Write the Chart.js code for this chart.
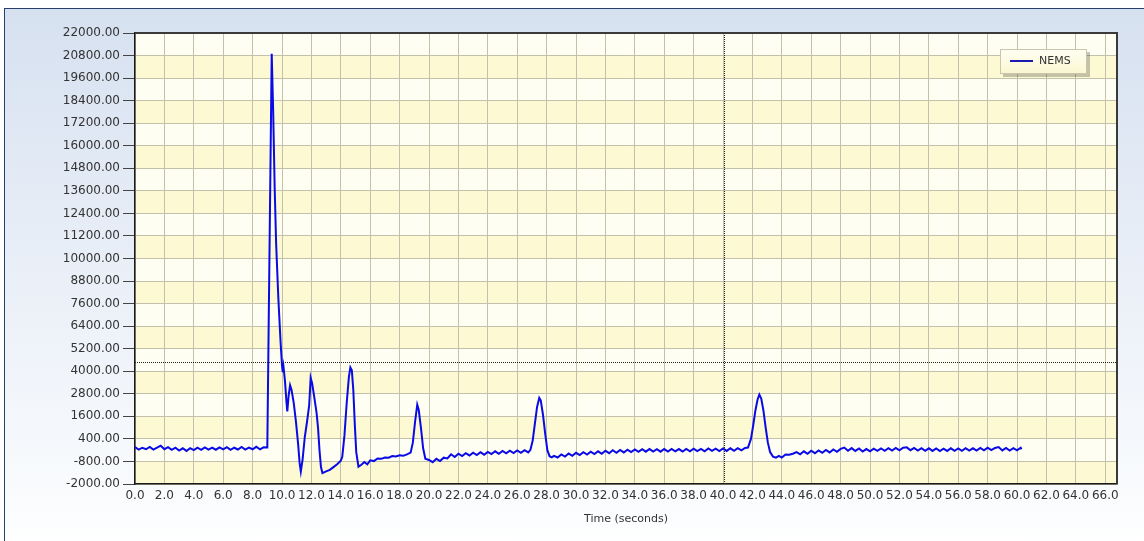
<!DOCTYPE html>
<html>
<head>
<meta charset="utf-8">
<script src="https://cdn.jsdelivr.net/npm/chart.js@4.4.1/dist/chart.umd.min.js"></script>
<style>
  html, body { margin: 0; padding: 0; background: #fff; }
  #wrap { position: relative; width: 1144px; height: 541px; overflow: hidden; }
  #frame {
    position: absolute; left: 4px; top: 8px; width: 1150px; height: 540px;
    border-left: 1px solid #2b3f6e; border-top: 1px solid #2b3f6e;
    background: linear-gradient(to bottom, #d6e1f0 0%, #e8eef7 45%, #f9fbfd 90%, #ffffff 100%);
  }
  canvas { position: absolute; left: 0; top: 0; }
</style>
</head>
<body>
<div id="wrap">
  <div id="frame"></div>
  <canvas id="nemsChart" width="1144" height="541"></canvas>
</div>
<script>
// time axis (seconds) and NEMS signal
const timeSec = [
  0, 0.25, 0.5, 0.75, 1, 1.25, 1.5, 1.75, 2, 2.25, 2.5, 2.75,
  3, 3.25, 3.5, 3.75, 4, 4.25, 4.5, 4.75, 5, 5.25, 5.5, 5.75,
  6, 6.25, 6.5, 6.75, 7, 7.25, 7.5, 7.75, 8, 8.25, 8.5, 8.75,
  9.0, 9.3, 9.4, 9.5, 9.6, 9.75, 9.9, 10.0, 10.05, 10.1, 10.2, 10.3,
  10.36, 10.45, 10.55, 10.65, 10.8, 10.95, 11.1, 11.2, 11.28, 11.4, 11.55, 11.7,
  11.85, 11.95, 12.05, 12.2, 12.35, 12.45, 12.55, 12.65, 12.75, 13.0, 13.25, 13.5,
  13.75, 14.0, 14.1, 14.25, 14.4, 14.55, 14.65, 14.75, 14.85, 14.95, 15.05, 15.2,
  15.4, 15.6, 15.8, 16.0, 16.25, 16.5, 16.75, 17.0, 17.25, 17.5, 17.75, 18.0,
  18.25, 18.5, 18.75, 18.9, 19.05, 19.2, 19.3, 19.45, 19.6, 19.75, 20.0, 20.25,
  20.5, 20.75, 21.0, 21.25, 21.5, 21.75, 22.0, 22.25, 22.5, 22.75, 23.0, 23.25,
  23.5, 23.75, 24.0, 24.25, 24.5, 24.75, 25.0, 25.25, 25.5, 25.75, 26.0, 26.25,
  26.5, 26.75, 26.9, 27.05, 27.2, 27.35, 27.5, 27.6, 27.75, 27.9, 28.05, 28.2,
  28.35, 28.5, 28.75, 29.0, 29.25, 29.5, 29.75, 30.0, 30.25, 30.5, 30.75, 31.0,
  31.25, 31.5, 31.75, 32.0, 32.25, 32.5, 32.75, 33.0, 33.25, 33.5, 33.75, 34.0,
  34.25, 34.5, 34.75, 35.0, 35.25, 35.5, 35.75, 36.0, 36.25, 36.5, 36.75, 37.0,
  37.25, 37.5, 37.75, 38.0, 38.25, 38.5, 38.75, 39.0, 39.25, 39.5, 39.75, 40.0,
  40.25, 40.5, 40.75, 41.0, 41.25, 41.5, 41.7, 41.9, 42.05, 42.2, 42.35, 42.47,
  42.6, 42.75, 42.9, 43.05, 43.2, 43.4, 43.6, 43.8, 44.0, 44.25, 44.5, 44.75,
  45.0, 45.25, 45.5, 45.75, 46.0, 46.25, 46.5, 46.75, 47.0, 47.25, 47.5, 47.75,
  48.0, 48.25, 48.5, 48.75, 49.0, 49.25, 49.5, 49.75, 50.0, 50.25, 50.5, 50.75,
  51.0, 51.25, 51.5, 51.75, 52.0, 52.25, 52.5, 52.75, 53.0, 53.25, 53.5, 53.75,
  54.0, 54.25, 54.5, 54.75, 55.0, 55.25, 55.5, 55.75, 56.0, 56.25, 56.5, 56.75,
  57.0, 57.25, 57.5, 57.75, 58.0, 58.25, 58.5, 58.75, 59.0, 59.25, 59.5, 59.75,
  60.0, 60.25, 60.3
];
const nemsSignal = [
  -40, -170, -70, -150, -30, -165, -60, 40, -150, -40, -180, -70,
  -220, -100, -240, -90, -200, -70, -180, -50, -170, -60, -175, -50,
  -160, -40, -180, -70, -165, -30, -170, -60, -150, -20, -160, -50,
  -60, 20900, 17800, 13800, 10800, 7900, 5600, 4300, 3950, 4250, 3500, 2400,
  1860, 2700, 3250, 3000, 2300, 1300, 100, -900, -1340, -700, 500, 1300,
  2200, 3650, 3350, 2600, 1800, 1000, -200, -1100, -1420, -1330, -1250, -1100,
  -950, -760, -550, 600, 2300, 3700, 4200, 4050, 3000, 1200, -300, -1080,
  -980, -830, -950, -740, -780, -640, -660, -590, -600, -510, -540, -470,
  -500, -420, -330, 200, 1300, 2220, 1950, 1000, -100, -650, -720, -840,
  -660, -780, -600, -640, -420, -560, -390, -510, -360, -480, -330, -460,
  -310, -440, -290, -410, -260, -390, -240, -370, -230, -350, -210, -340,
  -200, -320, -180, 300, 1200, 2100, 2580, 2450, 1700, 700, -200, -520,
  -580, -500, -590, -430, -540, -380, -500, -340, -460, -310, -430, -280,
  -410, -260, -390, -230, -360, -200, -340, -190, -320, -170, -300, -160,
  -290, -150, -280, -140, -270, -150, -280, -140, -270, -130, -260, -140,
  -270, -130, -260, -120, -250, -130, -260, -110, -240, -120, -250, -110,
  -240, -100, -230, -90, -210, -80, -60, 400, 1100, 1900, 2500, 2760,
  2550, 1900, 1000, 200, -300, -540, -600, -500, -590, -430, -440, -390,
  -300, -420, -260, -390, -230, -360, -210, -340, -190, -320, -160, -290,
  -130, -60, -230, -90, -240, -110, -270, -140, -260, -120, -240, -110,
  -230, -90, -220, -80, -210, -70, -50, -200, -80, -220, -90, -230,
  -100, -240, -110, -250, -120, -240, -100, -230, -110, -230, -90, -220,
  -100, -220, -80, -210, -70, -200, -80, -30, -210, -80, -220, -90,
  -210, -70, -150
];
const yTicks = [-2000, -800, 400, 1600, 2800, 4000, 5200, 6400, 7600, 8800, 10000,
  11200, 12400, 13600, 14800, 16000, 17200, 18400, 19600, 20800, 22000];
const xTicks = [0, 2, 4, 6, 8, 10, 12, 14, 16, 18, 20, 22, 24, 26, 28, 30, 32,
  34, 36, 38, 40, 42, 44, 46, 48, 50, 52, 54, 56, 58, 60, 62, 64, 66];
const cursorTime = 40.1;
const cursorValue = 4500;

const FONT = '"DejaVu Sans", Verdana, sans-serif';

const plotDecor = {
  id: 'plotDecor',
  beforeDraw(chart) {
    // alternating yellow / white bands between the y grid lines
    const { ctx, chartArea: a, scales: { y } } = chart;
    ctx.save();
    for (let i = 0; i < yTicks.length - 1; i++) {
      const top = y.getPixelForValue(yTicks[i + 1]);
      const bot = y.getPixelForValue(yTicks[i]);
      ctx.fillStyle = i % 2 === 0 ? '#fcf9d3' : '#fefef3';
      ctx.fillRect(a.left, top, a.right - a.left, bot - top);
    }
    ctx.restore();
  },
  afterDraw(chart) {
    const { ctx, chartArea: a, scales: { x, y } } = chart;
    ctx.save();
    // cursor cross-hair
    ctx.strokeStyle = '#222';
    ctx.lineWidth = 1;
    ctx.setLineDash([1, 1]);
    const cx = Math.round(x.getPixelForValue(cursorTime)) + 0.5;
    const cy = Math.round(y.getPixelForValue(cursorValue)) + 0.5;
    ctx.beginPath();
    ctx.moveTo(cx, a.top); ctx.lineTo(cx, a.bottom);
    ctx.moveTo(a.left, cy); ctx.lineTo(a.right, cy);
    ctx.stroke();
    ctx.setLineDash([]);

    // top and right frame of the plot
    ctx.strokeStyle = '#3a3a3a';
    ctx.lineWidth = 2;
    ctx.beginPath();
    ctx.moveTo(a.left, a.top); ctx.lineTo(a.right, a.top); ctx.lineTo(a.right, a.bottom);
    ctx.stroke();

    // legend
    const lx = 1000, ly = 49, lw = 87, lh = 25;
    ctx.fillStyle = 'rgba(0,0,0,0.22)';
    ctx.fillRect(lx + 3, ly + 3, lw, lh);
    const g = ctx.createLinearGradient(0, ly, 0, ly + lh);
    g.addColorStop(0, '#fffff4');
    g.addColorStop(1, '#fbf6cf');
    ctx.fillStyle = g;
    ctx.fillRect(lx, ly, lw, lh);
    ctx.strokeStyle = '#c9c6b0';
    ctx.lineWidth = 1;
    ctx.strokeRect(lx + 0.5, ly + 0.5, lw - 1, lh - 1);
    ctx.strokeStyle = '#1a1ab0';
    ctx.lineWidth = 2;
    ctx.beginPath();
    ctx.moveTo(lx + 10, ly + 12); ctx.lineTo(lx + 33, ly + 12);
    ctx.stroke();
    ctx.fillStyle = '#333';
    ctx.font = '11px ' + FONT;
    ctx.textBaseline = 'middle';
    ctx.fillText('NEMS', lx + 39, ly + 12);
    ctx.restore();
  }
};

const ctx = document.getElementById('nemsChart').getContext('2d');

const nemsChart = new Chart(ctx, {
  type: 'line',
  data: {
    datasets: [{
      label: 'NEMS',
      data: timeSec.map((t, i) => ({ x: t, y: nemsSignal[i] })),
      borderColor: '#0a0ae6',
      borderWidth: 2,
      pointRadius: 0,
      tension: 0,
      fill: false,
    }]
  },
  options: {
    responsive: false,
    animation: false,
    devicePixelRatio: 1,
    layout: {
      padding: { left: 0, top: 33, right: 27, bottom: 0 }
    },
    plugins: {
      legend: { display: false },
      tooltip: { enabled: false }
    },
    scales: {
      x: {
        type: 'linear',
        min: 0,
        max: 66.8,
        afterBuildTicks: (scale) => { scale.ticks = xTicks.map(v => ({ value: v })); },
        afterFit: (scale) => { scale.height = 57; },
        grid: {
          color: '#c3c1ab',
          drawTicks: false
        },
        border: { color: '#1a1a1a', width: 1.5 },
        ticks: {
          autoSkip: false,
          maxRotation: 0,
          padding: 5,
          color: '#333',
          font: { family: FONT, size: 12 },
          callback: (v) => Number(v).toFixed(1)
        },
        title: {
          display: true,
          text: 'Time (seconds)',
          color: '#333',
          font: { family: FONT, size: 11 },
          padding: { top: 0, bottom: 15 }
        }
      },
      y: {
        min: -2000,
        max: 22000,
        afterBuildTicks: (scale) => { scale.ticks = yTicks.map(v => ({ value: v })); },
        afterFit: (scale) => { scale.width = 135; },
        grid: {
          color: '#c3c1ab',
          tickColor: '#444',
          tickLength: 12
        },
        border: { color: '#1a1a1a', width: 1.5 },
        ticks: {
          padding: 3,
          color: '#333',
          font: { family: FONT, size: 12 },
          callback: (v) => Number(v).toFixed(2)
        }
      }
    }
  },
  plugins: [plotDecor]
});
</script>
</body>
</html>
